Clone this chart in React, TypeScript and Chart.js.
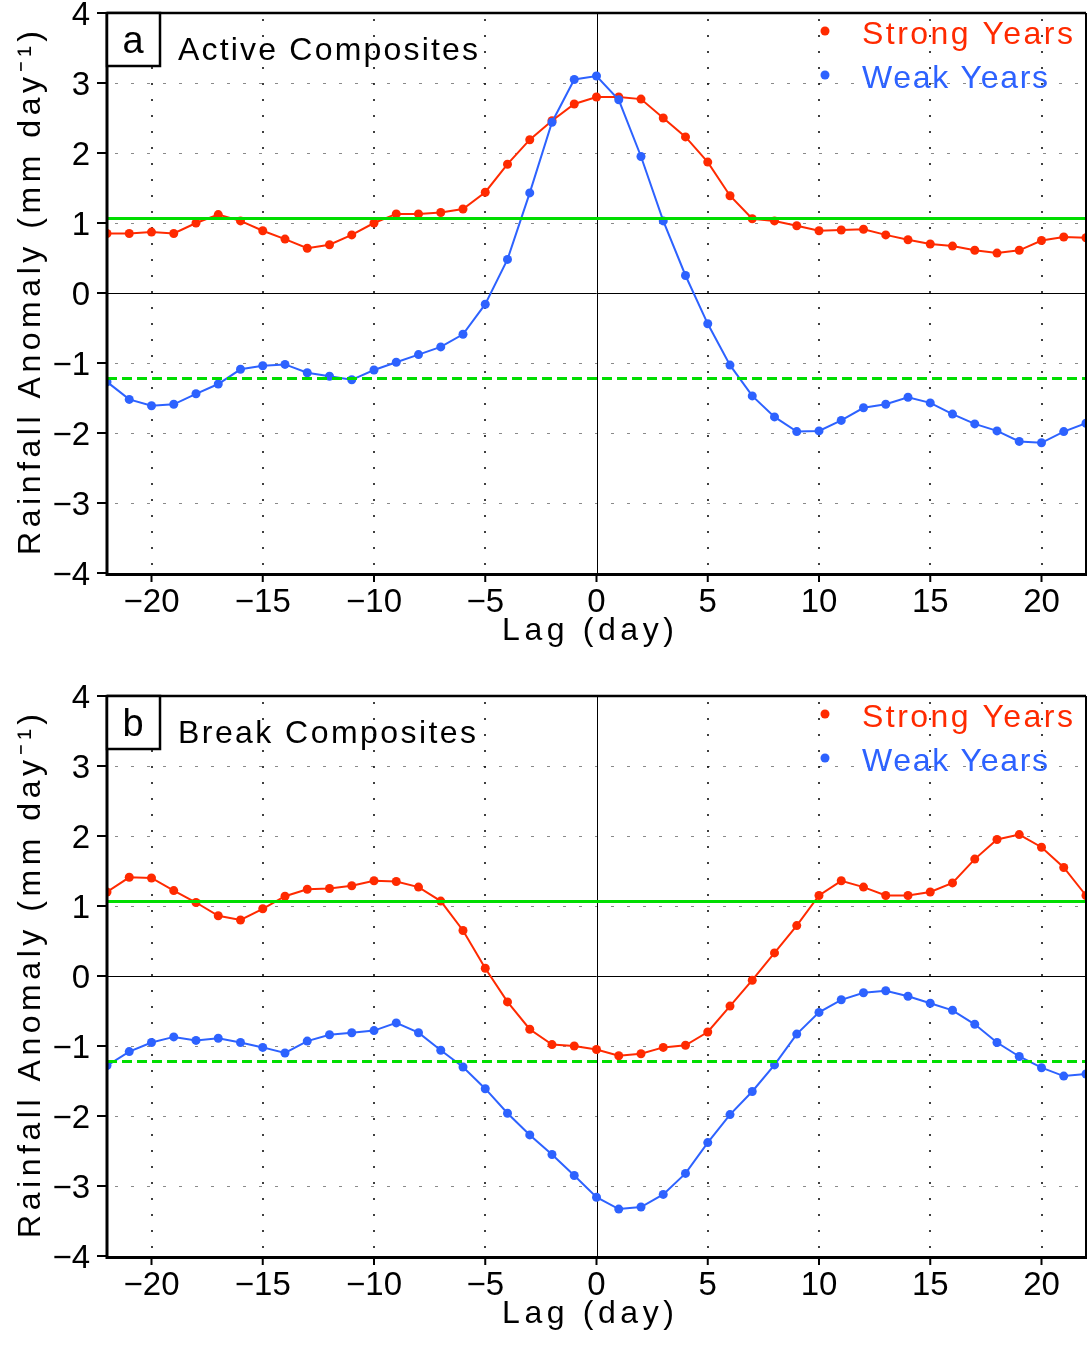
import React, { useEffect, useRef } from 'react';
import { Chart, registerables } from 'chart.js';

Chart.register(...registerables);

// ---------------- data ----------------
const lags = [
  -22, -21, -20, -19, -18, -17, -16, -15, -14, -13, -12, -11, -10, -9, -8, -7, -6, -5, -4, -3, -2, -1,
  0, 1, 2, 3, 4, 5, 6, 7, 8, 9, 10, 11, 12, 13, 14, 15, 16, 17, 18, 19, 20, 21, 22,
];

const activeStrong = [
  0.85, 0.85, 0.87, 0.85, 1.0, 1.12, 1.03, 0.89, 0.77, 0.64, 0.69, 0.83, 1.0, 1.13, 1.13, 1.15, 1.2, 1.44, 1.84, 2.19, 2.46, 2.7,
  2.8, 2.8, 2.77, 2.5, 2.23, 1.87, 1.39, 1.06, 1.03, 0.96, 0.89, 0.9, 0.91, 0.83, 0.76, 0.7, 0.67, 0.61, 0.57, 0.61, 0.75, 0.8, 0.79,
];

const activeWeak = [
  -1.27, -1.52, -1.61, -1.59, -1.44, -1.3, -1.09, -1.04, -1.02, -1.14, -1.19, -1.24, -1.1, -0.99, -0.88, -0.77, -0.59, -0.16, 0.48, 1.43, 2.44, 3.05,
  3.1, 2.76, 1.95, 1.03, 0.25, -0.44, -1.03, -1.47, -1.77, -1.98, -1.97, -1.82, -1.64, -1.59, -1.49, -1.57, -1.73, -1.87, -1.97, -2.12, -2.14, -1.98, -1.86,
];

const breakStrong = [
  1.2, 1.41, 1.4, 1.22, 1.05, 0.86, 0.8, 0.96, 1.14, 1.24, 1.25, 1.29, 1.36, 1.35, 1.27, 1.07, 0.65, 0.11, -0.37, -0.76, -0.98, -1.0,
  -1.05, -1.14, -1.11, -1.02, -0.99, -0.8, -0.43, -0.06, 0.33, 0.72, 1.15, 1.36, 1.27, 1.15, 1.15, 1.2, 1.33, 1.67, 1.95, 2.02, 1.84, 1.55, 1.15,
];

const breakWeak = [
  -1.28, -1.08, -0.95, -0.87, -0.92, -0.89, -0.95, -1.02, -1.1, -0.93, -0.84, -0.81, -0.78, -0.67, -0.81, -1.06, -1.3, -1.61, -1.96, -2.27, -2.55, -2.85,
  -3.16, -3.33, -3.3, -3.12, -2.82, -2.38, -1.98, -1.65, -1.27, -0.83, -0.52, -0.34, -0.24, -0.21, -0.29, -0.39, -0.49, -0.69, -0.95, -1.15, -1.31, -1.43, -1.4,
];

const thresholdUpper = 1.065;
const thresholdLower = -1.22;

const xTickValues = [-20, -15, -10, -5, 0, 5, 10, 15, 20];
const xTickLabels = ['\u221220', '\u221215', '\u221210', '\u22125', '0', '5', '10', '15', '20'];
const yTickValues = [-4, -3, -2, -1, 0, 1, 2, 3, 4];
const yTickLabels = ['\u22124', '\u22123', '\u22122', '\u22121', '0', '1', '2', '3', '4'];
const seriesNames = ['Strong Years', 'Weak Years'];
const xTitle = 'Lag (day)';
const yTitle = 'Rainfall Anomaly (mm day\u207B\u00B9)';

// ---------------- styles ----------------
const RED = '#ff2a00';
const BLUE = '#2d62ff';
const GREEN = '#00dd00';
const FONT = '"Liberation Sans", Arial, sans-serif';

type Panel = {
  letter: string;
  title: string;
  titleWidth: number;
  strong: number[];
  weak: number[];
};

const panelA: Panel = { letter: 'a', title: 'Active Composites', titleWidth: 300, strong: activeStrong, weak: activeWeak };
const panelB: Panel = { letter: 'b', title: 'Break Composites', titleWidth: 298, strong: breakStrong, weak: breakWeak };

function toXY(values: number[]) {
  return lags.map((x, i) => ({ x, y: values[i] }));
}

function drawFitted(ctx: any, text: string, x: number, baseline: number, width: number) {
  ctx.letterSpacing = '0px';
  ctx.textAlign = 'left';
  const w = ctx.measureText(text).width;
  const n = Array.from(text).length;
  const ls = n > 1 ? (width - w) / (n - 1) : 0;
  ctx.letterSpacing = ls + 'px';
  ctx.fillText(text, x, baseline);
  ctx.letterSpacing = '0px';
}

function makeChart(canvas: HTMLCanvasElement, panel: Panel, bottomPad: number) {
  const overlay = {
    id: 'overlay',
    beforeDatasetsDraw(chart: any) {
      const ctx = chart.ctx;
      const { left, right, top, bottom } = chart.chartArea;
      const xs = chart.scales.x;
      const ys = chart.scales.y;
      ctx.save();
      // horizontal dashed grid
      ctx.strokeStyle = '#8a8a8a';
      ctx.lineWidth = 1;
      ctx.setLineDash([3, 13]);
      yTickValues.forEach((v) => {
        if (v === 0 || v === 4 || v === -4) return;
        const y = Math.round(ys.getPixelForValue(v)) + 0.5;
        ctx.beginPath();
        ctx.moveTo(left + 8, y);
        ctx.lineTo(right, y);
        ctx.stroke();
      });
      // vertical dotted grid
      ctx.strokeStyle = '#000';
      ctx.lineWidth = 1.5;
      ctx.setLineDash([2, 14]);
      xTickValues.forEach((v) => {
        if (v === 0) return;
        const x = Math.round(xs.getPixelForValue(v));
        ctx.beginPath();
        ctx.moveTo(x, top + 6);
        ctx.lineTo(x, bottom);
        ctx.stroke();
      });
      ctx.setLineDash([]);
      // zero lines
      ctx.lineWidth = 1;
      const y0 = Math.round(ys.getPixelForValue(0)) + 0.5;
      ctx.beginPath();
      ctx.moveTo(left, y0);
      ctx.lineTo(right, y0);
      ctx.stroke();
      const x0 = Math.round(xs.getPixelForValue(0)) + 0.5;
      ctx.beginPath();
      ctx.moveTo(x0, top);
      ctx.lineTo(x0, bottom);
      ctx.stroke();
      ctx.restore();
    },
    afterDatasetsDraw(chart: any) {
      const ctx = chart.ctx;
      const { left, right, top, bottom } = chart.chartArea;
      const xs = chart.scales.x;
      const ys = chart.scales.y;
      ctx.save();
      ctx.strokeStyle = '#000';
      ctx.fillStyle = '#000';
      // frame
      ctx.lineWidth = 2.5;
      ctx.beginPath();
      ctx.moveTo(left, top);
      ctx.lineTo(right, top);
      ctx.stroke();
      ctx.lineWidth = 2;
      ctx.beginPath();
      ctx.moveTo(right, top);
      ctx.lineTo(right, bottom);
      ctx.stroke();
      ctx.lineWidth = 3;
      ctx.beginPath();
      ctx.moveTo(left, top - 1);
      ctx.lineTo(left, bottom + 1.5);
      ctx.lineTo(right + 1, bottom + 1.5);
      ctx.stroke();
      // ticks
      ctx.lineWidth = 2;
      yTickValues.forEach((v) => {
        const y = ys.getPixelForValue(v);
        ctx.beginPath();
        ctx.moveTo(left - 10, y);
        ctx.lineTo(left, y);
        ctx.stroke();
      });
      xTickValues.forEach((v) => {
        const x = xs.getPixelForValue(v);
        ctx.beginPath();
        ctx.moveTo(x, bottom);
        ctx.lineTo(x, bottom + 9);
        ctx.stroke();
      });
      // tick labels
      ctx.font = `33px ${FONT}`;
      ctx.textAlign = 'right';
      ctx.textBaseline = 'alphabetic';
      yTickValues.forEach((v, i) => {
        const y = ys.getPixelForValue(v);
        ctx.fillText(yTickLabels[i], 90, y + 12);
      });
      ctx.textAlign = 'center';
      xTickValues.forEach((v, i) => {
        const x = xs.getPixelForValue(v);
        ctx.fillText(xTickLabels[i], x, bottom + 39);
      });
      // axis titles
      ctx.font = `32px ${FONT}`;
      drawFitted(ctx, xTitle, 588 - 86, bottom + 67, 172);
      ctx.save();
      ctx.translate(40, (top + bottom) / 2);
      ctx.rotate(-Math.PI / 2);
      drawFitted(ctx, yTitle, -262, 0, 524);
      ctx.restore();
      // panel letter box
      ctx.fillStyle = '#fff';
      ctx.fillRect(left, top, 53, 53);
      ctx.lineWidth = 2.5;
      ctx.strokeStyle = '#000';
      ctx.strokeRect(left, top, 53, 53);
      ctx.fillStyle = '#000';
      ctx.font = `38px ${FONT}`;
      ctx.textAlign = 'center';
      ctx.fillText(panel.letter, left + 26, top + 40);
      // panel title
      ctx.font = `32px ${FONT}`;
      drawFitted(ctx, panel.title, 178, top + 47, panel.titleWidth);
      // legend
      const legend = [
        { name: seriesNames[0], color: RED, dy: 18, width: 211 },
        { name: seriesNames[1], color: BLUE, dy: 62, width: 186 },
      ];
      legend.forEach((l) => {
        ctx.fillStyle = l.color;
        ctx.beginPath();
        ctx.arc(825, top + l.dy, 4.5, 0, Math.PI * 2);
        ctx.fill();
        drawFitted(ctx, l.name, 862, top + l.dy + 12.5, l.width);
      });
      ctx.restore();
    },
  };

  const lineEnds = [lags[0], lags[lags.length - 1]];

  return new Chart(canvas, {
    type: 'line',
    data: {
      datasets: [
        {
          label: 'upper threshold',
          data: lineEnds.map((x) => ({ x, y: thresholdUpper })),
          borderColor: GREEN,
          borderWidth: 3,
          pointRadius: 0,
        },
        {
          label: 'lower threshold',
          data: lineEnds.map((x) => ({ x, y: thresholdLower })),
          borderColor: GREEN,
          borderWidth: 3,
          borderDash: [10, 5],
          pointRadius: 0,
        },
        {
          label: seriesNames[1],
          data: toXY(panel.weak),
          borderColor: BLUE,
          backgroundColor: BLUE,
          pointBackgroundColor: BLUE,
          pointBorderWidth: 0,
          pointRadius: 4.5,
          borderWidth: 2,
          tension: 0,
        },
        {
          label: seriesNames[0],
          data: toXY(panel.strong),
          borderColor: RED,
          backgroundColor: RED,
          pointBackgroundColor: RED,
          pointBorderWidth: 0,
          pointRadius: 4.5,
          borderWidth: 2,
          tension: 0,
        },
      ],
    },
    options: {
      responsive: false,
      animation: false,
      devicePixelRatio: 1,
      events: [],
      layout: { autoPadding: false, padding: { left: 107, top: 13, right: 1, bottom: bottomPad } },
      scales: {
        x: { type: 'linear', min: -22, max: 22, display: false },
        y: { type: 'linear', min: -4, max: 4, display: false },
      },
      plugins: {
        legend: { display: false },
        tooltip: { enabled: false },
      },
    },
    plugins: [overlay],
  } as any);
}

export default function App() {
  const refA = useRef<HTMLCanvasElement>(null);
  const refB = useRef<HTMLCanvasElement>(null);
  useEffect(() => {
    const a = makeChart(refA.current as HTMLCanvasElement, panelA, 110);
    const b = makeChart(refB.current as HTMLCanvasElement, panelB, 89);
    return () => {
      a.destroy();
      b.destroy();
    };
  }, []);
  return (
    <div style={{ position: 'absolute', left: 0, top: 0, width: 1087, height: 1345, background: '#fff' }}>
      <canvas ref={refA} width={1087} height={683} style={{ display: 'block', width: 1087, height: 683 }} />
      <canvas ref={refB} width={1087} height={662} style={{ display: 'block', width: 1087, height: 662 }} />
    </div>
  );
}
